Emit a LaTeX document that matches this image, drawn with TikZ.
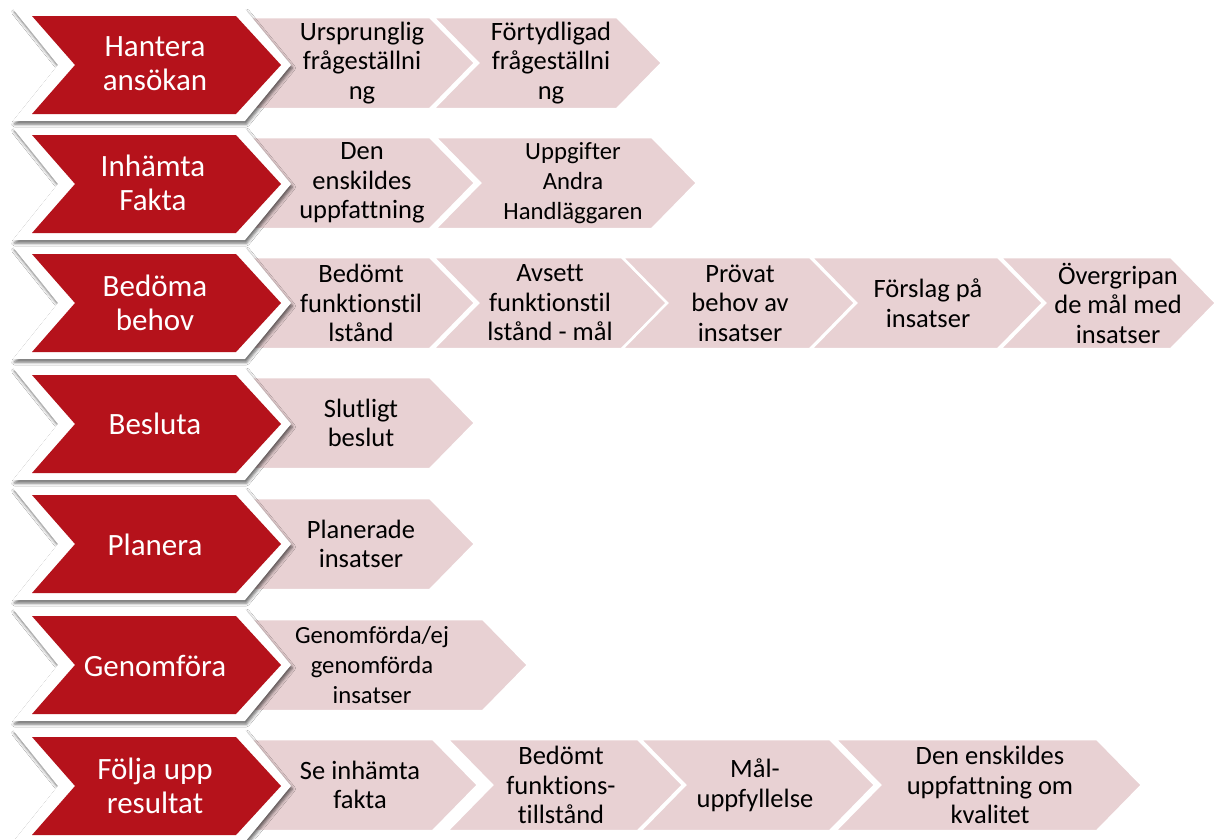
\documentclass[tikz,border=0pt]{standalone}
\usepackage{fontspec}
\setmainfont{Carlito}[Ligatures=NoCommon]
\usetikzlibrary{shadows.blur}
\definecolor{chevred}{RGB}{181,18,27}
\definecolor{chevpink}{RGB}{232,209,211}
\tikzset{
  pinkchev/.style={fill=chevpink, draw=white, line width=2.5pt, line join=miter},
  redchev/.style={fill=chevred},
  whitechev/.style={fill=white, blur shadow={shadow xshift=1.5pt, shadow yshift=-3pt, shadow opacity=60, shadow blur radius=3pt}},
  redtext/.style={text=white, font=\fontsize{31}{34}\selectfont, align=center, inner sep=0pt},
  pinktext/.style={text=black, font=\fontsize{26.5}{29.5}\selectfont, align=center, inner sep=0pt},
  pinksmall/.style={pinktext, font=\fontsize{24.7}{30}\selectfont},
}
\newcommand\pchev[3]{%
  \path[pinkchev] (#1,#3-46) -- (#2-45,#3-46) -- (#2,#3) -- (#2-45,#3+46) -- (#1,#3+46) -- (#1+45,#3) -- cycle;}
\newcommand\rchev[1]{%
  \path[whitechev] (13,#1-56) -- (245,#1-56) -- (291,#1) -- (245,#1+56) -- (13,#1+56) -- (58,#1) -- cycle;
  \path[redchev] (32,#1-49) -- (236,#1-49) -- (281,#1) -- (236,#1+49) -- (32,#1+49) -- (75,#1) -- cycle;}
\begin{document}
\begin{tikzpicture}[x=1pt,y=-1pt]
\useasboundingbox[fill=white] (0,0) rectangle (1217,839);
% Row 1
\pchev{243}{475}{63}
\pchev{433}{662}{63}
\rchev{65}
\node[redtext] (r1) at (155,64) {Hantera\\ansökan};
\node[pinktext] (p11) at (362,63) {Ursprunglig\\frågeställni\\ng};
\node[pinktext] (p12) at (551,63) {Förtydligad\\frågeställni\\ng};
% Row 2
\pchev{243}{475}{183}
\pchev{435}{697}{183}
\rchev{184}
\node[redtext] (r2) at (153,183) {Inhämta\\Fakta};
\node[pinktext] (p21) at (362,183) {Den\\enskildes\\uppfattning};
\node[pinksmall] (p22) at (573,183) {Uppgifter\\Andra\\Handläggaren};
% Row 3
\pchev{243}{475}{303}
\pchev{433}{667}{303}
\pchev{622}{855}{303}
\pchev{811}{1043}{303}
\pchev{1000}{1216}{303}
\rchev{303}
\node[redtext] (r3) at (155,303) {Bedöma\\behov};
\node[pinktext] (p31) at (361,303) {Bedömt\\funktionstil\\lstånd};
\node[pinktext] (p32) at (550,303) {Avsett\\funktionstil\\lstånd - mål};
\node[pinktext] (p33) at (740,303) {Prövat\\behov av\\insatser};
\node[pinktext] (p34) at (928,303) {Förslag på\\insatser};
\node[pinktext] (p35) at (1118,303) {Övergripan\\de mål med\\insatser};
% Row 4
\pchev{243}{475}{423}
\rchev{424}
\node[redtext] (r4) at (155,424) {Besluta};
\node[pinktext] (p41) at (361,423) {Slutligt\\beslut};
% Row 5
\pchev{243}{475}{544}
\rchev{544}
\node[redtext] (r5) at (155,545) {Planera};
\node[pinktext] (p51) at (361,544) {Planerade\\insatser};
% Row 6
\pchev{243}{528}{665}
\rchev{665}
\node[redtext] (r6) at (155,666) {Genomföra};
\node[pinksmall] (p61) at (372,665) {Genomförda/ej\\genomförda\\insatser};
% Row 7
\pchev{243}{478}{785}
\pchev{447}{683}{785}
\pchev{640}{875}{785}
\pchev{835}{1142}{785}
\rchev{786}
\node[redtext] (r7) at (155,786) {Följa upp\\resultat};
\node[pinktext] (p71) at (360,785) {Se inhämta\\fakta};
\node[pinktext] (p72) at (561,785) {Bedömt\\funktions-\\tillstånd};
\node[pinktext] (p73) at (755,785) {Mål-\\uppfyllelse};
\node[pinktext] (p74) at (990,785) {Den enskildes\\uppfattning om\\kvalitet};
\end{tikzpicture}
\end{document}
